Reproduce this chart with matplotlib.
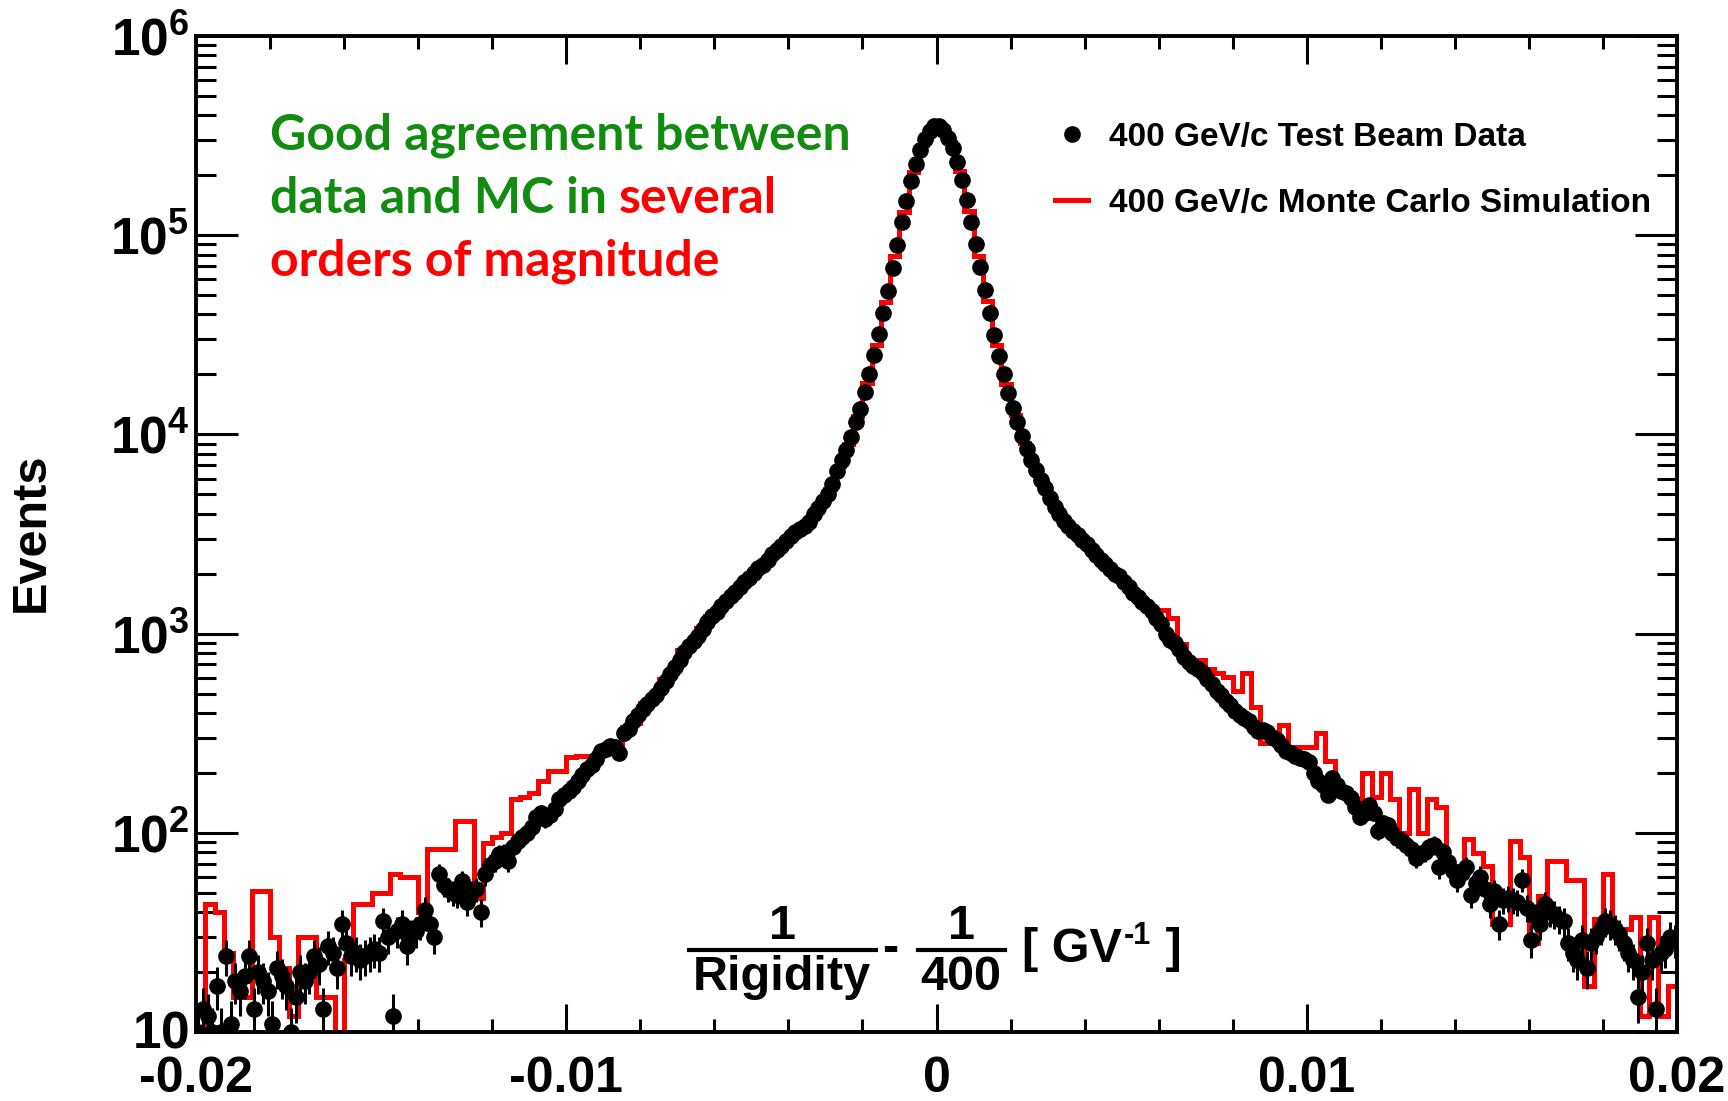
import numpy as np
import matplotlib
matplotlib.use("Agg")
import matplotlib.pyplot as plt
from matplotlib.ticker import MultipleLocator, LogLocator, NullFormatter
from matplotlib.lines import Line2D
from matplotlib.font_manager import FontProperties
from matplotlib.transforms import ScaledTranslation

plt.rcParams['font.family'] = ['Liberation Sans', 'DejaVu Sans']
plt.rcParams['font.weight'] = 'bold'
plt.rcParams['mathtext.fontset'] = 'custom'
plt.rcParams['mathtext.rm'] = 'Liberation Sans:bold'
plt.rcParams['mathtext.bf'] = 'Liberation Sans:bold'
plt.rcParams['mathtext.it'] = 'Liberation Sans:bold'
plt.rcParams['mathtext.sf'] = 'Liberation Sans:bold'

# ---------------- data ----------------
x_min, x_max = -0.02, 0.02

# Test beam data, 320 bins from -0.02 to 0.02
data_left = [
    10, 13, 12, 10, 17, 10, 24, 11, 18, 16,
    19, 24, 13, 20, 18, 16, 11, 21, 19, 17,
    10, 15, 20, 18, 20, 24, 22, 13, 27, 25,
    21, 35, 28, 24, 25, 23, 24, 25, 26, 25,
    36, 30, 12, 32, 35, 27, 31, 32, 35, 41,
    35, 30, 62, 55, 52, 50, 49, 57, 45, 50,
    52, 40, 62, 69, 72, 78, 79, 72, 85, 91,
    95, 100, 107, 120, 126, 117, 123, 132, 148, 155,
    162, 170, 182, 195, 209, 219, 234, 257, 263, 272,
    269, 251, 316, 331, 363, 389, 417, 442, 468, 490,
    531, 575, 624, 676, 733, 804, 871, 923, 977, 1050,
    1150, 1220, 1290, 1380, 1460, 1550, 1620, 1720, 1820, 1905,
    2020, 2140, 2210, 2340, 2510, 2630, 2750, 2920, 3090, 3240,
    3350, 3470, 3630, 3980, 4270, 4620, 5010, 5620, 6560, 7410,
    8330, 9700, 11500, 13400, 16300, 20100, 24900, 31900, 40900, 52500,
    68500, 89500, 116000, 149000, 187000, 229000, 268000, 303000, 333000, 352000,
]
data_right = [
    355000, 339000, 309000, 275000, 234000, 190000, 151000, 117000, 90200, 69200,
    53100, 40700, 31600, 24800, 20000, 16200, 13500, 11500, 9770, 8410,
    7410, 6610, 5890, 5370, 4790, 4320, 3980, 3670, 3470, 3270,
    3130, 2950, 2820, 2630, 2480, 2340, 2240, 2110, 2000, 1950,
    1820, 1720, 1600, 1530, 1445, 1380, 1300, 1200, 1120, 1000,
    933, 902, 841, 767, 724, 684, 668, 631, 589, 556,
    513, 490, 457, 437, 407, 389, 376, 363, 339, 324,
    327, 320, 302, 292, 275, 257, 251, 243, 237, 234,
    226, 200, 182, 174, 155, 188, 174, 162, 158, 150,
    135, 120, 126, 138, 126, 102, 112, 110, 100, 94,
    91, 87, 83, 75, 78, 80, 85, 87, 67, 80,
    71, 64, 58, 63, 67, 49, 56, 60, 52, 44,
    51, 35, 46, 47, 46, 45, 58, 42, 29, 38,
    35, 44, 40, 39, 37, 36, 28, 25, 23, 29,
    21, 28, 30, 33, 36, 35, 33, 31, 28, 25,
    23, 15, 20, 28, 23, 13, 25, 26, 30, 29,
]

# Monte Carlo simulation, 160 bins from -0.02 to 0.02
mc_left = [
    8, 44, 40, 25, 15, 15, 51, 51, 30, 21,
    12, 30, 30, 15, 15, 9, 23, 44, 44, 50,
    50, 62, 60, 60, 40, 83, 83, 83, 115, 115,
    47, 89, 95, 100, 148, 151, 158, 182, 204, 204,
    240, 243, 243, 251, 269, 263, 339, 355, 447, 490,
    589, 631, 832, 912, 1070, 1230, 1350, 1500, 1670, 1860,
    2080, 2270, 2570, 2830, 3100, 3350, 3800, 4440, 5310, 6970,
    8990, 12400, 18100, 28200, 46300, 78300, 131000, 207000, 285000, 342000,
]
mc_right = [
    347000, 292000, 211000, 133000, 79000, 46500, 28000, 18000, 12500, 9060,
    7000, 5620, 4550, 3820, 3370, 3040, 2720, 2410, 2170, 1990,
    1770, 1565, 1410, 1250, 1318, 1202, 891, 741, 741, 661,
    631, 603, 513, 631, 427, 282, 282, 347, 269, 269,
    269, 316, 229, 166, 158, 148, 200, 151, 200, 148,
    100, 166, 100, 148, 135, 68, 68, 93, 79, 68,
    35, 35, 91, 76, 28, 48, 72, 72, 58, 58,
    17, 37, 62, 33, 33, 38, 12, 38, 12, 17,
]

x_ticks = [-0.02, -0.01, 0.0, 0.01, 0.02]
x_tick_labels = ['-0.02', '-0.01', '0', '0.01', '0.02']
y_ticks = [1e1, 1e2, 1e3, 1e4, 1e5, 1e6]
y_tick_labels = [r'$\mathbf{10}$', r'$\mathbf{10^{2}}$', r'$\mathbf{10^{3}}$',
                 r'$\mathbf{10^{4}}$', r'$\mathbf{10^{5}}$', r'$\mathbf{10^{6}}$']
legend_labels = ['400 GeV/c Test Beam Data', '400 GeV/c Monte Carlo Simulation']

data_counts = np.array(data_left + data_right, dtype=float)
mc_counts = np.array(mc_left + mc_right, dtype=float)
data_edges = np.linspace(x_min, x_max, len(data_counts) + 1)
data_x = 0.5 * (data_edges[:-1] + data_edges[1:])
mc_edges = np.linspace(x_min, x_max, len(mc_counts) + 1)

# ---------------- figure ----------------
W, H = 1728, 1101
fig = plt.figure(figsize=(W / 100, H / 100), dpi=100)
ax = fig.add_axes([196 / W, 1 - 1032 / H, 1481 / W, 996 / H])

ax.stairs(mc_counts, mc_edges, color='red', lw=3.6, baseline=None, zorder=2)
ax.errorbar(data_x, data_counts, yerr=np.sqrt(data_counts), fmt='o', color='black',
            ms=11, elinewidth=2.2, capsize=0, zorder=3)

ax.set_yscale('log')
ax.set_xlim(x_min, x_max)
ax.set_ylim(10, 1e6)

for s in ax.spines.values():
    s.set_linewidth(2.8)

ax.set_xticks(x_ticks, labels=x_tick_labels)
ax.xaxis.set_minor_locator(MultipleLocator(0.002))
ax.set_yticks(y_ticks, labels=y_tick_labels)
ax.yaxis.set_minor_locator(LogLocator(base=10, subs=np.arange(2, 10)))
ax.yaxis.set_minor_formatter(NullFormatter())

ax.tick_params(axis='both', which='both', direction='in', top=True, right=True, width=2.2)
ax.tick_params(axis='x', which='major', length=20, pad=17, labelsize=36)
ax.tick_params(axis='x', which='minor', length=9.5)
ax.tick_params(axis='y', which='major', length=30, pad=5, labelsize=37)
ax.tick_params(axis='y', which='minor', length=14.5)
for lab in ax.get_xticklabels():
    lab.set_fontweight('bold')

# nudge the lowest y label up slightly so it clears the "-0.02" label
low_lab = ax.yaxis.get_major_ticks()[0].label1
low_lab.set_transform(low_lab.get_transform() + ScaledTranslation(0, 4 / 100, fig.dpi_scale_trans))

# y label
fig.text(31 / W, 1 - 532 / H, 'Events', rotation=90, ha='center', va='center',
         fontsize=35, fontweight='bold')

# x label (drawn inside the plot as in the original)
fs = 35
def fx(px):
    return px / W
def fy(py):
    return 1 - py / H
renderer = fig.canvas.get_renderer()
fig.text(fx(782), fy(939), '1', ha='center', va='baseline', fontsize=fs, fontweight='bold')
fig.text(fx(782), fy(990), 'Rigidity', ha='center', va='baseline', fontsize=fs, fontweight='bold')
fig.add_artist(Line2D([fx(689), fx(876)], [fy(950), fy(950)], color='black', lw=3))
fig.text(fx(890), fy(962), '-', ha='center', va='baseline', fontsize=fs, fontweight='bold')
fig.text(fx(961), fy(939), '1', ha='center', va='baseline', fontsize=fs, fontweight='bold')
fig.text(fx(961), fy(990), '400', ha='center', va='baseline', fontsize=fs, fontweight='bold')
fig.add_artist(Line2D([fx(918), fx(1005)], [fy(950), fy(950)], color='black', lw=3))
ta = fig.text(fx(1022), fy(962), '[ GV', ha='left', va='baseline', fontsize=fs, fontweight='bold')
bba = ta.get_window_extent(renderer)
tb = fig.text((bba.x1 + 2) / W, fy(944), '-1', ha='left', va='baseline', fontsize=22,
              fontweight='bold')
bbb = tb.get_window_extent(renderer)
fig.text((bbb.x1 + 1) / W, fy(962), ' ]', ha='left', va='baseline', fontsize=fs,
         fontweight='bold')

# legend
h1 = Line2D([], [], ls='none', marker='o', color='black', ms=11)
h2 = Line2D([], [], color='red', lw=3.6)
ax.legend([h1, h2], legend_labels, loc='upper left',
          bbox_to_anchor=(fx(1055), fy(122)), bbox_transform=fig.transFigure,
          frameon=False, prop=FontProperties(family='Liberation Sans', weight='bold', size=24),
          handlelength=1.0, handletextpad=0.62, labelspacing=1.05,
          borderpad=0, borderaxespad=0)

# annotation
green = '#118c11'
note_fp = FontProperties(family='Lato', weight='bold', size=36)
fig.text(fx(270), fy(150), 'Good agreement between', color=green, fontproperties=note_fp,
         va='baseline', ha='left')
t2 = fig.text(fx(270), fy(213), 'data and MC in', color=green, fontproperties=note_fp,
              va='baseline', ha='left')
bb = t2.get_window_extent(renderer)
fig.text((bb.x1 + 12) / W, fy(213), 'several', color='red', fontproperties=note_fp,
         va='baseline', ha='left')
fig.text(fx(270), fy(276), 'orders of magnitude', color='red', fontproperties=note_fp,
         va='baseline', ha='left')

fig.savefig('out.png', dpi=100)
